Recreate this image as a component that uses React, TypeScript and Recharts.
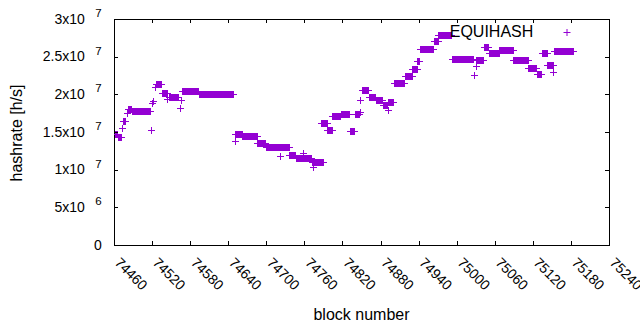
import React from "react";
import { ScatterChart, Scatter, XAxis, YAxis, ReferenceArea } from "recharts";

// runs of consecutive blocks that share one hashrate value
const runFrom = [
  74462, 74466, 74473, 74474, 74480, 74482, 74488, 74519, 74520, 74522, 74525, 74526, 74535,
  74544, 74546, 74564, 74566, 74567, 74594, 74650, 74651, 74662, 74686, 74699, 74722, 74736,
  74746, 74758, 74772, 74774, 74786, 74796, 74804, 74817, 74832, 74839, 74847, 74848, 74850,
  74862, 74873, 74884, 74891, 74892, 74901, 74918, 74930, 74938, 74942, 74965, 74971, 74992,
  75027, 75030, 75031, 75043, 75051, 75067, 75089, 75113, 75126, 75134, 75143, 75152, 75153,
];
const runTo = [
  74465, 74471, 74473, 74478, 74480, 74486, 74517, 74519, 74520, 74522, 74525, 74534, 74543,
  74544, 74561, 74564, 74566, 74593, 74648, 74650, 74661, 74685, 74698, 74735, 74722, 74745,
  74771, 74758, 74789, 74774, 74795, 74803, 74816, 74831, 74838, 74846, 74847, 74848, 74861,
  74872, 74883, 74890, 74891, 74900, 74917, 74929, 74937, 74941, 74963, 74970, 74991, 75026,
  75027, 75030, 75042, 75050, 75066, 75088, 75112, 75125, 75133, 75142, 75151, 75152, 75184,
];
const runHash = [
  14.8e6, 14.3e6, 15.5e6, 16.4e6, 17.55e6, 18.0e6, 17.85e6, 15.2e6, 18.8e6, 19.15e6, 21.0e6, 21.4e6, 20.2e6,
  19.35e6, 19.7e6, 18.15e6, 19.25e6, 20.4e6, 20.0e6, 13.8e6, 14.8e6, 14.5e6, 13.6e6, 13.0e6, 11.8e6, 12.0e6,
  11.5e6, 12.2e6, 11.05e6, 10.4e6, 16.15e6, 15.3e6, 17.1e6, 17.4e6, 15.1e6, 17.4e6, 17.7e6, 19.25e6, 20.6e6,
  19.7e6, 19.3e6, 18.6e6, 17.9e6, 19.0e6, 21.45e6, 22.5e6, 23.3e6, 24.4e6, 26.0e6, 27.1e6, 27.85e6, 24.65e6,
  22.55e6, 23.8e6, 24.6e6, 26.3e6, 25.55e6, 25.85e6, 24.6e6, 23.5e6, 22.65e6, 25.45e6, 23.85e6, 23.0e6, 25.7e6,
];

const xTicks = [74460, 74520, 74580, 74640, 74700, 74760, 74820, 74880, 74940, 75000, 75060, 75120, 75180, 75240];
const yTicks = [0, 5e6, 1e7, 1.5e7, 2e7, 2.5e7, 3e7];
const yTickMant = ["0", "5x10", "1x10", "1.5x10", "2x10", "2.5x10", "3x10"];
const yTickExp = ["", "6", "7", "7", "7", "7", "7"];

const data: { block: number; hash: number }[] = [];
runFrom.forEach((from, i) => {
  for (let b = from; b <= runTo[i]; b++) data.push({ block: b, hash: runHash[i] });
});

const PURPLE = "#9400d3";
const FONT = "'Liberation Sans', Arial, sans-serif";
const LEFT = 114, RIGHT = 609, TOP = 19, BOTTOM = 245;
const TIC = 4;

function Plus(props: any) {
  const { cx, cy } = props;
  if (cx == null || cy == null) return null;
  const x = Math.round(cx) + 0.5, y = Math.round(cy) + 0.5;
  return <path d={`M${x - 3.5},${y}h7M${x},${y - 3.5}v7`} stroke={PURPLE} strokeWidth={1} fill="none" />;
}

function XTick({ x, payload }: any) {
  const px = Math.round(x) + 0.5;
  return (
    <g>
      <line x1={px} x2={px} y1={BOTTOM} y2={BOTTOM - TIC} stroke="#000" />
      <line x1={px} x2={px} y1={TOP} y2={TOP + TIC} stroke="#000" />
      <text transform={`translate(${x},263.5) rotate(45)`} fontSize={14} fontFamily={FONT} fill="#000">
        {payload.value}
      </text>
    </g>
  );
}

function YTick({ y, payload }: any) {
  const i = yTicks.indexOf(payload.value);
  const py = Math.round(y) + 0.5;
  return (
    <g>
      <line x1={LEFT} x2={LEFT + TIC} y1={py} y2={py} stroke="#000" />
      <line x1={RIGHT} x2={RIGHT - TIC} y1={py} y2={py} stroke="#000" />
      <text x={LEFT - 12.3} y={y + 4.7} textAnchor="end" fontSize={14} fontFamily={FONT} fill="#000">
        {yTickMant[i]}
        {yTickExp[i] && (
          <tspan dx={10.5} dy={-6.7} fontSize={11.5}>
            {yTickExp[i]}
          </tspan>
        )}
      </text>
    </g>
  );
}

function XTitle() {
  return (
    <text x={(LEFT + RIGHT) / 2} y={320} textAnchor="middle" fontSize={16} fontFamily={FONT} fill="#000">
      block number
    </text>
  );
}

function YTitle() {
  return (
    <text transform="translate(22,133) rotate(-90)" textAnchor="middle" fontSize={16} fontFamily={FONT} fill="#000">
      hashrate [h/s]
    </text>
  );
}

export default function App() {
  return (
    <div style={{ position: "absolute", left: 0, top: 0, width: 640, height: 330, background: "#fff" }}>
      <ScatterChart width={640} height={330} margin={{ top: TOP, right: 640 - RIGHT, bottom: 0, left: 0 }}>
        <XAxis type="number" dataKey="block" domain={[74460, 75240]} ticks={xTicks} interval={0}
          allowDataOverflow tick={<XTick />} tickLine={false} axisLine={false} tickSize={0} tickMargin={0}
          height={330 - BOTTOM} label={<XTitle />} />
        <YAxis type="number" dataKey="hash" domain={[0, 3e7]} ticks={yTicks} interval={0}
          allowDataOverflow tick={<YTick />} tickLine={false} axisLine={false} tickSize={0} tickMargin={0}
          width={LEFT} label={<YTitle />} />
        <Scatter data={data} shape={<Plus />} isAnimationActive={false} />
        <ReferenceArea x1={74460} x2={75240} y1={0} y2={3e7} fill="none" fillOpacity={0}
          stroke="#000" strokeWidth={1} shapeRendering="crispEdges" />
      </ScatterChart>
      <svg width={640} height={60} style={{ position: "absolute", left: 0, top: 0, pointerEvents: "none" }}>
        <text x={533.3} y={37.3} textAnchor="end" fontSize={16} fontFamily={FONT} fill="#000">EQUIHASH</text>
        <path d="M563.5,32.5h7M567,29v7" stroke={PURPLE} strokeWidth={1} fill="none" />
      </svg>
    </div>
  );
}
